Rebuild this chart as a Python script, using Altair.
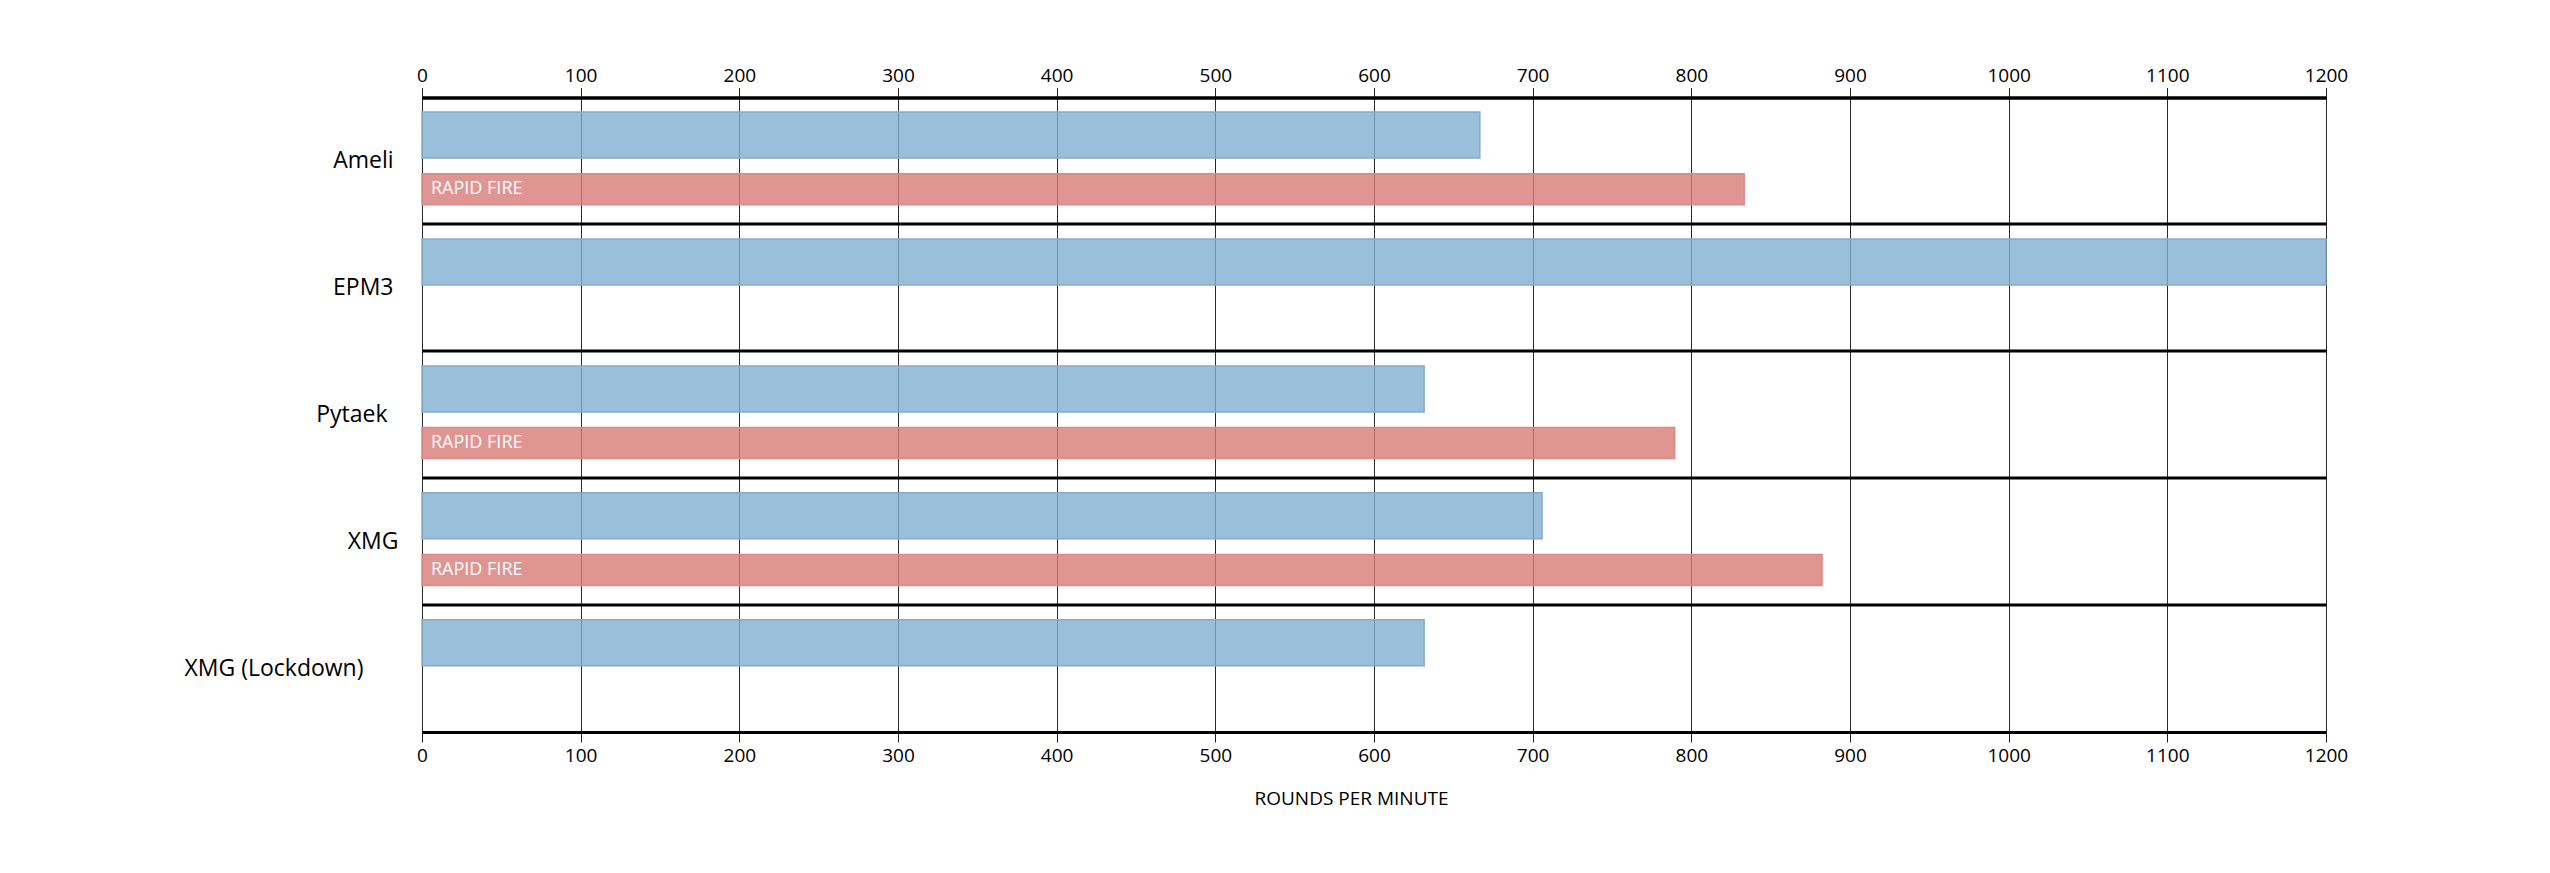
import altair as alt
import pandas as pd

# ---- data ----
weapons = ["Ameli", "EPM3", "Pytaek", "XMG", "XMG (Lockdown)"]
standard_rpm = [666.7, 1200, 631.6, 705.9, 631.6]
rapid_weapons = ["Ameli", "Pytaek", "XMG"]
rapid_rpm = [833.3, 789.5, 882.4]
rapid_label = "RAPID FIRE"
x_ticks = list(range(0, 1201, 100))
axis_title = "ROUNDS PER MINUTE"

std_df = pd.DataFrame({"weapon": weapons, "rpm": standard_rpm})
rap_df = pd.DataFrame({"weapon": rapid_weapons, "rpm": rapid_rpm,
                       "label": [rapid_label] * len(rapid_weapons)})

FONT = "Open Sans"
BLUE = "#80AFD2"
BLUE_STROKE = "#86AACB"
RED = "#D77B76"
RED_STROKE = "#DE8984"

xscale = alt.Scale(domain=[0, 1200], nice=False, zero=True)
yscale = alt.Scale(domain=weapons, paddingInner=0, paddingOuter=0)

label_pad = {
    "condition": [
        {"test": "datum.value == 'XMG (Lockdown)'", "value": 59},
        {"test": "datum.value == 'Pytaek'", "value": 35},
        {"test": "datum.value == 'XMG'", "value": 24},
    ],
    "value": 29,
}


def y_axis(pad):
    return alt.Axis(title=None, ticks=False, domain=False, grid=True,
                    bandPosition=0, gridColor="black", gridWidth=3,
                    labelFont=FONT, labelFontSize=23, labelColor="black",
                    labelAlign="right", labelBaseline="middle",
                    labelPadding=pad)


top_axis = alt.Axis(orient="top", values=x_ticks, format="d", labelFlush=False,
                    grid=True, gridColor="#2a2a2a", gridWidth=1,
                    tickSize=10, tickColor="#222222", tickWidth=1,
                    domain=True, domainColor="black", domainWidth=3,
                    labelFont=FONT, labelFontSize=19, labelColor="black",
                    labelBaseline="middle", labelPadding=12, title=None)

bottom_axis = alt.Axis(orient="bottom", values=x_ticks, format="d", labelFlush=False,
                       grid=False, tickSize=10, tickColor="#222222", tickWidth=1,
                       domain=True, domainColor="black", domainWidth=3,
                       labelFont=FONT, labelFontSize=19, labelColor="black",
                       labelBaseline="middle", labelPadding=13,
                       title=axis_title, titleFont=FONT, titleFontSize=19,
                       titleFontWeight="normal", titleColor="black",
                       titleX=929, titleY=66, titleAlign="center",
                       titleBaseline="middle")


def build(pad):
    std = alt.Chart(std_df).mark_bar(
        height=46, yOffset=-25.85, color=BLUE, fillOpacity=0.8,
        stroke=BLUE_STROKE, strokeWidth=1.5
    ).encode(
        x=alt.X("rpm:Q", scale=xscale, axis=top_axis),
        y=alt.Y("weapon:N", sort=weapons, scale=yscale, axis=y_axis(pad)),
    )
    rap = alt.Chart(rap_df).mark_bar(
        height=31, yOffset=28.35, color=RED, fillOpacity=0.8,
        stroke=RED_STROKE, strokeWidth=1.5
    ).encode(
        x=alt.X("rpm:Q", scale=xscale, axis=bottom_axis),
        y=alt.Y("weapon:N", sort=weapons, scale=yscale, axis=y_axis(pad)),
    )
    txt = alt.Chart(rap_df).mark_text(
        align="left", baseline="middle", dx=9, yOffset=28.35,
        color="white", font=FONT, fontSize=18
    ).encode(
        x=alt.XDatum(0, scale=xscale, axis=None),
        y=alt.Y("weapon:N", sort=weapons, scale=yscale, axis=y_axis(pad)),
        text="label:N",
    )
    return alt.layer(std, rap, txt).resolve_axis(x="independent").properties(
        width=1904, height=634.5,
        autosize=alt.AutoSizeParams(type="none"),
        padding={"left": 414, "top": 89.5, "right": 120, "bottom": 130},
    ).configure_view(stroke=None).configure(background="white")


try:
    chart = build(label_pad)
    chart.to_dict()
except Exception:
    chart = build(29)

chart.save("out.html", embed_options={"renderer": "svg", "actions": False})
